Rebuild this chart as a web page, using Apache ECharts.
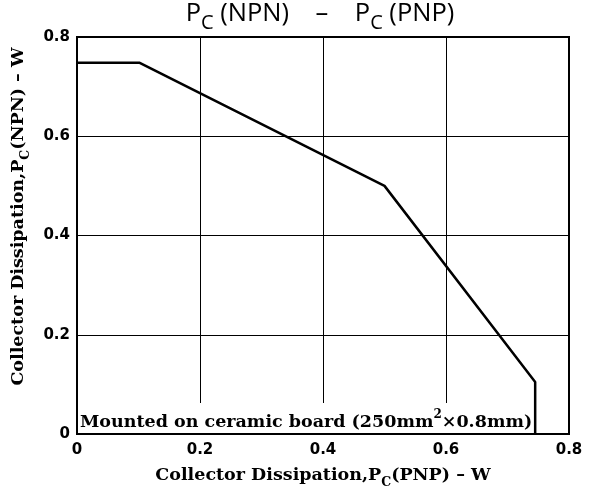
<!DOCTYPE html>
<html><head><meta charset="utf-8">
<script src="https://cdn.jsdelivr.net/npm/echarts@6/dist/echarts.min.js"></script>
<style>html,body{margin:0;padding:0;background:#fff}#c{width:594px;height:494px}</style>
</head><body><div id="c"></div>
<script>
var pnp = [0, 0.102, 0.5, 0.745, 0.745];
var npn = [0.748, 0.748, 0.5, 0.105, 0];
var xTicks = [0, 0.2, 0.4, 0.6, 0.8];
var yTicks = [0, 0.2, 0.4, 0.6, 0.8];
var titleText = '{p|P}{s|C}{p| (NPN)    –    }{p|P}{s|C}{p| (PNP)}';
var xName = '{a|Collector Dissipation,P}{b|C}{a|(PNP) – W}';
var yName = '{a|Collector Dissipation,P}{b|C}{a|(NPN) – W}';
var note = '{a|Mounted on ceramic board (250mm}{c|2}{a|×0.8mm)}';

var serif = '"DejaVu Serif", serif';
var sans = '"DejaVu Sans", sans-serif';
var nameRich = {
  a: {fontFamily: serif, fontWeight: 'bold', fontSize: 17.5, color: '#000', lineHeight: 23, verticalAlign: 'top'},
  b: {fontFamily: serif, fontWeight: 'bold', fontSize: 12.5, color: '#000', lineHeight: 23, verticalAlign: 'bottom'}
};
var chart = echarts.init(document.getElementById('c'));
var data = pnp.map(function (v, i) { return [v, npn[i]]; });
var option = {
  animation: false,
  grid: {left: 77, right: 25, top: 37, bottom: 57, show: true, borderColor: '#000', borderWidth: 2, backgroundColor: 'transparent'},
  xAxis: {
    type: 'value', min: xTicks[0], max: xTicks[xTicks.length - 1], interval: 0.2,
    axisLine: {show: false}, axisTick: {show: false},
    splitLine: {show: true, lineStyle: {color: '#000', width: 1}},
    axisLabel: {fontFamily: sans, fontWeight: 'bold', fontSize: 15, color: '#000', margin: 9},
    name: xName, nameLocation: 'middle', nameGap: 32,
    nameTextStyle: {rich: nameRich}
  },
  yAxis: {
    type: 'value', min: yTicks[0], max: yTicks[yTicks.length - 1], interval: 0.2,
    axisLine: {show: false}, axisTick: {show: false},
    splitLine: {show: true, lineStyle: {color: '#000', width: 1}},
    axisLabel: {fontFamily: sans, fontWeight: 'bold', fontSize: 15, color: '#000', margin: 7},
    name: yName, nameLocation: 'middle', nameGap: 41, nameRotate: 90,
    nameTextStyle: {rich: nameRich, padding: [0, 0, 0, 38]}
  },
  series: [{
    type: 'line', data: data, showSymbol: false, symbol: 'none',
    lineStyle: {color: '#000', width: 2.5}, z: 20
  }]
};
chart.setOption(option);
var p0 = chart.convertToPixel({gridIndex: 0}, [0, 0]);
chart.setOption({
  graphic: [
    {type: 'text', x: 320, y: 1, z: 10,
     style: {text: titleText, align: 'center', verticalAlign: 'top',
       rich: {
         p: {fontFamily: '"Open Sans", sans-serif', fontSize: 25.5, color: '#000', lineHeight: 32, verticalAlign: 'top'},
         s: {fontFamily: '"Open Sans", sans-serif', fontSize: 20, color: '#000', lineHeight: 32, verticalAlign: 'bottom'}
       }}},
    {type: 'text', x: p0[0] + 2, y: p0[1] - 1, z: 10,
     style: {text: note, align: 'left', verticalAlign: 'bottom', backgroundColor: '#fff', padding: [6, 2, 2, 1],
       rich: {
         a: {fontFamily: serif, fontWeight: 'bold', fontSize: 17.5, color: '#000', lineHeight: 22, verticalAlign: 'bottom'},
         c: {fontFamily: serif, fontWeight: 'bold', fontSize: 12, color: '#000', lineHeight: 22, verticalAlign: 'top'}
       }}}
  ]
});
</script></body></html>
